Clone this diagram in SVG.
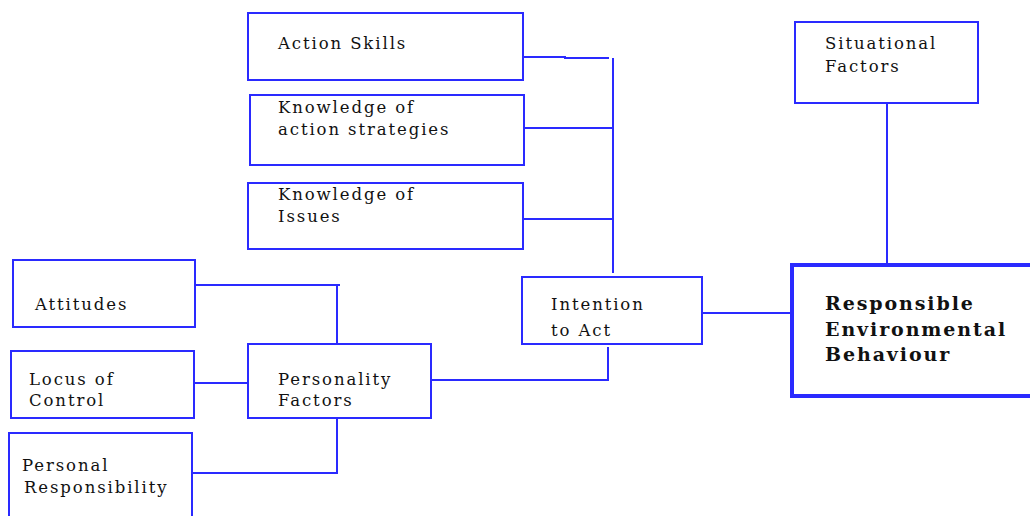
<svg xmlns="http://www.w3.org/2000/svg" width="1030" height="516" viewBox="0 0 1030 516">
<style>
.box{fill:#fff;stroke:#2a2aff;stroke-width:2}
.thick{fill:#fff;stroke:#2a2aff;stroke-width:4}
.ln{fill:none;stroke:#2a2aff;stroke-width:2}
text{font-family:"DejaVu Serif","Liberation Serif",serif;font-size:16.5px;letter-spacing:1.9px;fill:#111}
.b{font-weight:bold;font-size:19px;letter-spacing:1.9px}
</style>
<rect width="1030" height="516" fill="#fff"/>
<g id="connectors">
<polyline class="ln" points="523,57 565,57 565,58 609,58"/>
<line class="ln" x1="613" y1="58" x2="613" y2="273"/>
<line class="ln" x1="524" y1="128" x2="612" y2="128"/>
<line class="ln" x1="523" y1="219" x2="612" y2="219"/>
<polyline class="ln" points="195,285 340,285"/>
<line class="ln" x1="337" y1="285" x2="337" y2="344"/>
<line class="ln" x1="194" y1="383" x2="248" y2="383"/>
<polyline class="ln" points="192,473 337,473 337,418"/>
<polyline class="ln" points="431,380 608,380 608,347"/>
<line class="ln" x1="702" y1="313" x2="790" y2="313"/>
<line class="ln" x1="887" y1="103" x2="887" y2="264"/>
</g>
<g id="action-skills"><rect class="box" x="248" y="13" width="275" height="67"/><text x="278" y="49">Action Skills</text></g>
<g id="knowledge-action"><rect class="box" x="250" y="95" width="274" height="70"/><text x="278" y="113">Knowledge of</text><text x="278" y="135">action strategies</text></g>
<g id="knowledge-issues"><rect class="box" x="248" y="183" width="275" height="66"/><text x="278" y="200">Knowledge of</text><text x="278" y="222">Issues</text></g>
<g id="attitudes"><rect class="box" x="13" y="260" width="182" height="67"/><text x="35" y="310">Attitudes</text></g>
<g id="locus"><rect class="box" x="11" y="351" width="183" height="67"/><text x="29" y="385">Locus of</text><text x="29" y="406">Control</text></g>
<g id="personality"><rect class="box" x="248" y="344" width="183" height="74"/><text x="278" y="385">Personality</text><text x="278" y="406">Factors</text></g>
<g id="personal-resp"><rect class="box" x="9" y="433" width="183" height="100"/><text x="22" y="471">Personal</text><text x="24" y="493">Responsibility</text></g>
<g id="intention"><rect class="box" x="522" y="277" width="180" height="67"/><text x="551" y="310">Intention</text><text x="551" y="336">to Act</text></g>
<g id="situational"><rect class="box" x="795" y="22" width="183" height="81"/><text x="825" y="49">Situational</text><text x="825" y="72">Factors</text></g>
<g id="reb"><rect class="thick" x="792" y="265" width="260" height="131"/><text class="b" x="825" y="310">Responsible</text><text class="b" x="825" y="336">Environmental</text><text class="b" x="825" y="361">Behaviour</text></g>
</svg>
